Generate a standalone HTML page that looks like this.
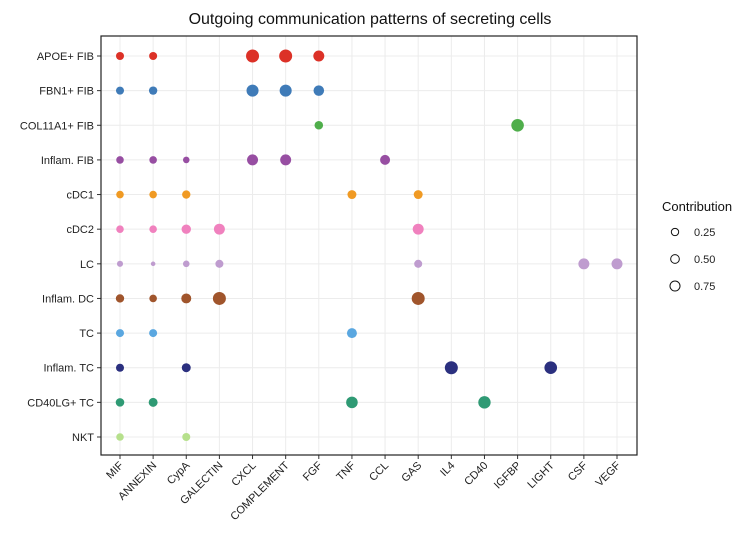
<!DOCTYPE html>
<html><head><meta charset="utf-8"><style>
body{margin:0;background:#fff;font-family:"Liberation Sans",Arial,sans-serif}
</style></head><body>
<svg id="c" width="754" height="535" xmlns="http://www.w3.org/2000/svg" font-family="Liberation Sans, Arial, sans-serif">
<text x="370" y="24" font-size="16" text-anchor="middle" fill="#111">Outgoing communication patterns of secreting cells</text>
<g id="grid"></g><g id="dots"></g><g id="axes"></g>
<g>
<text x="662" y="211" font-size="13" fill="#111">Contribution</text>
<g id="leg"></g>
</g>
</svg>
<script>
const pathways=["MIF","ANNEXIN","CypA","GALECTIN","CXCL","COMPLEMENT","FGF","TNF","CCL","GAS","IL4","CD40","IGFBP","LIGHT","CSF","VEGF"];
const cells=["APOE+ FIB","FBN1+ FIB","COL11A1+ FIB","Inflam. FIB","cDC1","cDC2","LC","Inflam. DC","TC","Inflam. TC","CD40LG+ TC","NKT"];
const colors=["#dc3127","#3f7bb8","#4fae4b","#974ea2","#f09a23","#f081be","#bf9ccf","#a0552c","#5aa7e0","#2b307f","#2f9a74","#b6e08c"];
// [cellIndex, pathwayIndex, contribution]
const points=[
[0,0,0.37],[0,1,0.37],[0,4,0.97],[0,5,0.97],[0,6,0.69],
[1,0,0.37],[1,1,0.40],[1,4,0.83],[1,5,0.83],[1,6,0.64],
[2,6,0.42],[2,12,0.91],
[3,0,0.33],[3,1,0.33],[3,2,0.25],[3,4,0.69],[3,5,0.69],[3,8,0.57],
[4,0,0.33],[4,1,0.33],[4,2,0.40],[4,7,0.46],[4,9,0.46],
[5,0,0.33],[5,1,0.33],[5,2,0.51],[5,3,0.69],[5,9,0.69],
[6,0,0.21],[6,1,0.12],[6,2,0.25],[6,3,0.37],[6,9,0.37],[6,14,0.69],[6,15,0.69],
[7,0,0.40],[7,1,0.33],[7,2,0.57],[7,3,0.97],[7,9,0.97],
[8,0,0.37],[8,1,0.37],[8,7,0.57],
[9,0,0.37],[9,2,0.46],[9,10,0.97],[9,13,0.91],
[10,0,0.42],[10,1,0.46],[10,7,0.77],[10,11,0.88],
[11,0,0.33],[11,2,0.37]];
const legendValues=[0.25,0.50,0.75];
const L=101,R=637,T=36,B=455;
const x=i=>120+i*(617-120)/(pathways.length-1);
const y=j=>56+j*(437-56)/(cells.length-1);
const r=v=>6.6*Math.sqrt(v);
const NS="http://www.w3.org/2000/svg";
function mk(tag,attrs,parent){const e=document.createElementNS(NS,tag);for(const k in attrs)e.setAttribute(k,attrs[k]);parent.appendChild(e);return e;}
const grid=document.getElementById('grid'),dots=document.getElementById('dots'),axes=document.getElementById('axes'),leg=document.getElementById('leg');
pathways.forEach((p,i)=>{
 const l=mk('line',{x1:x(i),x2:x(i),y1:T,y2:B,stroke:'#ececec','stroke-width':1},grid);
 
 
 const t=mk('line',{x1:x(i),x2:x(i),y1:B,y2:B+4,stroke:'#333'},axes);
 
 
 const tx=mk('text',{x:x(i)+4,y:B+11,'font-size':11,fill:'#222','text-anchor':'end',transform:`rotate(-45 ${x(i)+4} ${B+11})`},axes);
 tx.textContent=p;
 
 
});
cells.forEach((c,j)=>{
 const l=mk('line',{x1:L,x2:R,y1:y(j),y2:y(j),stroke:'#ececec','stroke-width':1},grid);
 
 
 const t=mk('line',{x1:L-4,x2:L,y1:y(j),y2:y(j),stroke:'#333'},axes);
 
 
 const tx=mk('text',{x:L-7,y:y(j)+4,'font-size':11,fill:'#222','text-anchor':'end'},axes);
 tx.textContent=c;
 
 
});
const frame=mk('rect',{x:L,y:T,width:R-L,height:B-T,fill:'none',stroke:'#222','stroke-width':1.2},axes);


points.forEach(([j,i,v])=>{
 const d=mk('circle',{cx:x(i),cy:y(j),r:r(v),fill:colors[j]},dots);
 
 
});
legendValues.forEach((v,k)=>{
 const cy=232+k*27;
 const c=mk('circle',{cx:675,cy:cy,r:3+2.7*v,fill:'none',stroke:'#111','stroke-width':1},leg);
 
 
 const t=mk('text',{x:694,y:cy+4,'font-size':11,fill:'#222'},leg);
 t.textContent=v.toFixed(2);
 
 
});
</script>
</body></html>
